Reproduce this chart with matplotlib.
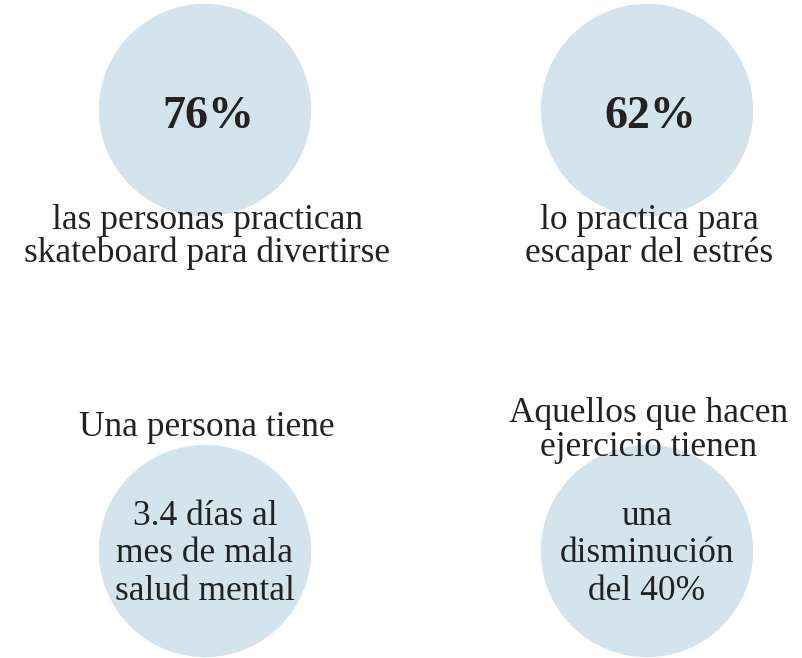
import matplotlib.pyplot as plt
from matplotlib.patches import Circle

# infographic data
big_numbers = ["76%", "62%"]
below_text = [["las personas practican", "skateboard para divertirse"],
              ["lo practica para", "escapar del estrés"]]
above_text = [["Una persona tiene"], ["Aquellos que hacen", "ejercicio tienen"]]
inside_text = [["3.4 días al", "mes de mala", "salud mental"],
               ["una", "disminución", "del 40%"]]

circle_color = "#d5e3ed"
text_color = "#222222"
font = "Liberation Serif"
body_size = 25.5
line_gap = 33.5

fig = plt.figure(figsize=(8.02, 6.58), dpi=100)
ax = fig.add_axes([0, 0, 1, 1])
ax.set_xlim(0, 802)
ax.set_ylim(658, 0)
ax.set_aspect("equal")
ax.axis("off")

r = 105.5
top_centers = [(205, 110), (647, 110)]
bottom_centers = [(205, 551), (647, 551)]
above_baseline = [436, 421.5]


def lines(x, y0, rows, gap):
    for i, s in enumerate(rows):
        ax.text(x, y0 + i * gap, s, ha="center", va="baseline",
                fontsize=body_size, family=font, color=text_color, zorder=3)


# top row: big bold number in circle, caption under it
for (cx, cy), num, cap in zip(top_centers, big_numbers, below_text):
    ax.add_patch(Circle((cx, cy), r, color=circle_color, zorder=1))
    ax.text(cx + 3, 128, num, ha="center", va="baseline", fontsize=33,
            fontweight="bold", family=font, color=text_color, zorder=3)
    lines(cx + 2, 229, cap, line_gap)

# bottom row: caption above, text inside circle
for (cx, cy), cap, inner, yb in zip(bottom_centers, above_text, inside_text,
                                    above_baseline):
    ax.add_patch(Circle((cx, cy), r, color=circle_color, zorder=1))
    lines(cx + 2, yb, cap, 34.5)
    lines(cx, 525, inner, 37.5)

fig.savefig("out.png", dpi=100)
